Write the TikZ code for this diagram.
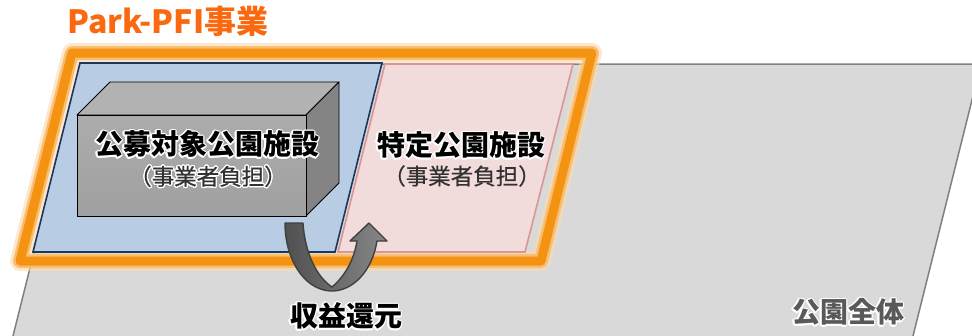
\documentclass[tikz,border=0pt]{standalone}
\usepackage{fontspec}
\setmainfont{Noto Sans CJK JP}
\usepackage[copies]{contour}
\contourlength{1.3pt}
\contournumber{16}
\definecolor{parkgray}{RGB}{217,217,217}
\definecolor{parkline}{RGB}{128,128,128}
\definecolor{orng}{RGB}{244,147,18}
\definecolor{orngtxt}{RGB}{250,105,15}
\definecolor{bluefill}{RGB}{184,204,228}
\definecolor{navy}{RGB}{23,55,94}
\definecolor{pinkfill}{RGB}{242,220,219}
\definecolor{pinkline}{RGB}{217,150,148}
\definecolor{txtgray}{RGB}{50,50,50}
\definecolor{labgray}{RGB}{89,89,89}
\tikzset{
  big/.style={font=\bfseries\fontsize{28}{30}\selectfont},
  small/.style={font=\fontsize{22.5}{24}\selectfont\addfontfeature{FakeBold=0.6}, text=txtgray},
  boxline/.style={draw=black, line width=0.9pt, line join=round},
  frame/.style={line join=round},
}
\begin{document}
\begin{tikzpicture}[x=1pt,y=-1pt]
\useasboundingbox (0,0) rectangle (972,335);
% whole park
\path[fill=parkgray, draw=parkline, line width=1.5pt] (81,64) -- (981,64) -- (912,340) -- (12,340) -- cycle;
% orange frame with glow
\draw[frame, orng!35, line width=20pt, opacity=0.6] (72,53) -- (592,53) -- (541,261) -- (20,261) -- cycle;
\draw[frame, orng!60, line width=14pt] (72,53) -- (592,53) -- (541,261) -- (20,261) -- cycle;
\draw[frame, orng, line width=9pt] (72,53) -- (592,53) -- (541,261) -- (20,261) -- cycle;
% blue and pink areas
\path[fill=bluefill, draw=navy, line width=1.6pt] (80,63) -- (382,63) -- (335,252) -- (33,252) -- cycle;
\path[fill=pinkfill, draw=pinkline, line width=1.6pt] (385,64) -- (573,64) -- (525,252) -- (338,252) -- cycle;
% box
\path[boxline, fill={rgb,255:red,178;green,178;blue,178}] (77,115) -- (110,82) -- (339,82) -- (306,115) -- cycle;
\path[boxline, fill={rgb,255:red,132;green,132;blue,132}] (306,115) -- (339,82) -- (339,183) -- (306,216) -- cycle;
\path[boxline, top color={rgb,255:red,172;green,172;blue,172}, bottom color={rgb,255:red,160;green,160;blue,160}] (77,115) rectangle (306,216);
% texts
\node[big] (pub) at (207,145) {\contour{white}{公募対象公園施設}};
\node[small] (pubsub) at (208,177) {\contour{white}{（事業者負担）}};
\node[big] (spec) at (461,146) {\contour{white}{特定公園施設}};
\node[small] (specsub) at (462,176) {（事業者負担）};
\node[big, text=labgray] (whole) at (848,313) {\contour{white}{公園全体}};
\node[font=\bfseries\fontsize{32}{34}\selectfont, text=orngtxt] (title) at (168,21) {Park-PFI事業};
% U-turn arrow
\path[draw={rgb,255:red,64;green,64;blue,64}, line width=1.4pt, line join=round,
  left color={rgb,255:red,80;green,80;blue,80}, right color={rgb,255:red,135;green,135;blue,135}]
  (285,223) -- (303,223)
  .. controls (305,255) and (318,278) .. (332,287)
  .. controls (345,276) and (354,260) .. (357,241)
  -- (350,241) -- (369,223) -- (387,241) -- (377,241)
  .. controls (372,272) and (352,292) .. (330,291)
  .. controls (303,289) and (285,258) .. (285,223) -- cycle;
\node[big] (ret) at (346,317) {\contour{white}{収益還元}};
\end{tikzpicture}
\end{document}
